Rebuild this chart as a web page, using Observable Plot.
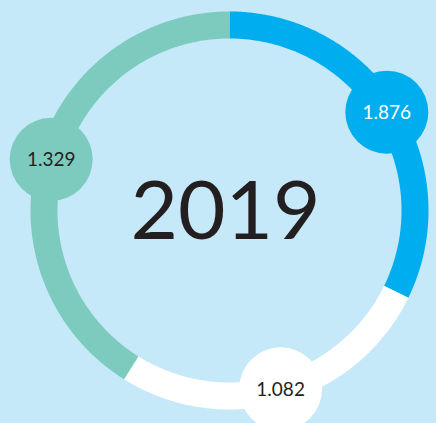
<!DOCTYPE html>
<html>
<head>
<meta charset="utf-8">
<script src="https://cdn.jsdelivr.net/npm/d3@7"></script>
<script src="https://cdn.jsdelivr.net/npm/@observablehq/plot@0.6"></script>
<style>
  html, body { margin: 0; padding: 0; background: #c6e9f9; }
  #chart svg { display: block; background: #c6e9f9; }
</style>
</head>
<body>
<div id="chart"></div>
<script>
// Data
const series = ["Segment A", "Segment B", "Segment C"];
const labels = ["1.876", "1.082", "1.329"];
const values = [1.876, 1.082, 1.329];
const arcDegrees = [116, 96, 148]; // angular span of each ring segment, clockwise from 12 o'clock
const year = "2019";

const W = 436, H = 423;
const R = 185.5; // ring centre radius in px units

let start = 0;
const segs = series.map((s, i) => {
  const seg = {series: s, label: labels[i], value: values[i], a0: start, a1: start + arcDegrees[i]};
  start += arcDegrees[i];
  return seg;
});
const ringPts = [];
for (const s of segs) {
  for (let a = s.a0; a <= s.a1 + 1e-9; a += 0.5) {
    const t = a * Math.PI / 180;
    ringPts.push({series: s.series, x: R * Math.sin(t), y: R * Math.cos(t)});
  }
}
const bubbles = segs.map(s => {
  const t = ((s.a0 + s.a1) / 2) * Math.PI / 180;
  return {series: s.series, label: s.label, x: R * Math.sin(t), y: R * Math.cos(t)};
});

const colorScale = {domain: series, range: ["#00aeef", "#ffffff", "#7dcbbf"]};
const textColor = d => d.series === series[0] ? "#ffffff" : "#231f20";

const chart = Plot.plot({
  width: W,
  height: H,
  margin: 0,
  style: {background: "#c6e9f9", fontFamily: "Lato, 'Open Sans', sans-serif"},
  x: {domain: [-229, W - 229], axis: null},
  y: {domain: [-(H - 210), 210], axis: null},
  color: colorScale,
  marks: [
    Plot.line(ringPts, {x: "x", y: "y", z: "series", stroke: "series", strokeWidth: 27, strokeLinecap: "butt", strokeLinejoin: "round"}),
    Plot.dot(bubbles, {x: "x", y: "y", r: 41.5, fill: "series", stroke: null}),
    Plot.text(bubbles, {x: "x", y: "y", text: "label", fill: textColor, fontSize: 19, dy: 1}),
    Plot.text([year], {x: () => -4, y: () => 0, text: d => d, fontSize: 82, fontWeight: 400, fill: "#231f20", dy: 2})
  ]
});
document.getElementById("chart").appendChild(chart);
</script>
</body>
</html>
